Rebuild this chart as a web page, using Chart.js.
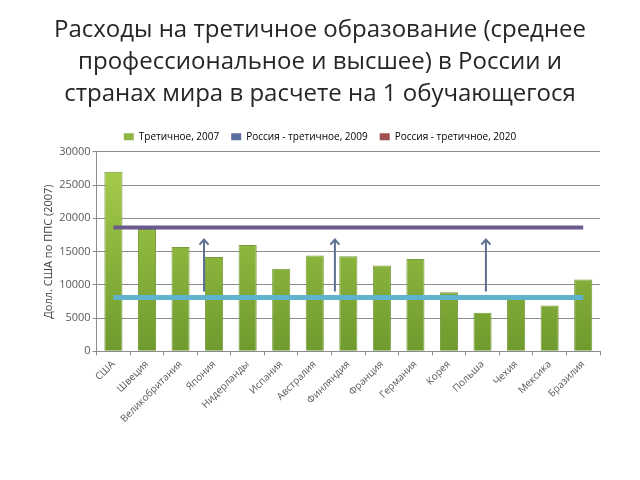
<!DOCTYPE html>
<html>
<head>
<meta charset="utf-8">
<script src="https://cdn.jsdelivr.net/npm/chart.js@4"></script>
<style>
  body { margin: 0; background: #fff; }
  #wrap { width: 640px; height: 480px; }
</style>
</head>
<body>
<div id="wrap"><canvas id="my-chart"></canvas></div>
<script>
const countries = ["США", "Швеция", "Великобритания", "Япония", "Нидерланды", "Испания", "Австралия",
  "Финляндия", "Франция", "Германия", "Корея", "Польша", "Чехия", "Мексика", "Бразилия"];
const tertiary2007 = [27000, 18400, 15700, 14200, 16000, 12400, 14400, 14300, 12900, 13900, 8900, 5800, 8000, 6900, 10800];
const russia2009 = [8100, 8100, 8100, 8100, 8100, 8100, 8100, 8100, 8100, 8100, 8100, 8100, 8100, 8100, 8100];
const russia2020 = [18600, 18600, 18600, 18600, 18600, 18600, 18600, 18600, 18600, 18600, 18600, 18600, 18600, 18600, 18600];
const yTicks = [0, 5000, 10000, 15000, 20000, 25000, 30000];
// arrows: position on category axis, from / to values
const arrowAt = [2.7, 6.6, 11.1];
const arrowFrom = [9000, 9000, 9000];
const arrowTo = [16800, 16800, 16800];

const titleLines = [
  "Расходы на третичное образование (среднее",
  "профессиональное и высшее) в России и",
  "странах мира в расчете на 1 обучающегося",
];

// vertical arrows on top of everything
const arrowPlugin = {
  id: "arrows",
  afterDatasetsDraw(chart) {
    const { ctx, scales } = chart;
    ctx.save();
    ctx.strokeStyle = "#5d7090";
    ctx.lineWidth = 2;
    arrowAt.forEach((a, i) => {
      const x = scales.x.getPixelForValue(a);
      const y0 = scales.y.getPixelForValue(arrowFrom[i]);
      const y1 = scales.y.getPixelForValue(arrowTo[i]);
      ctx.beginPath();
      ctx.moveTo(x, y0);
      ctx.lineTo(x, y1);
      ctx.moveTo(x - 4.5, y1 + 5);
      ctx.lineTo(x, y1);
      ctx.lineTo(x + 4.5, y1 + 5);
      ctx.stroke();
    });
    ctx.restore();
  },
};

function barGradient(context) {
  const area = context.chart.chartArea;
  if (!area) return "#9bbb59";
  const g = context.chart.ctx.createLinearGradient(0, area.top, 0, area.bottom);
  g.addColorStop(0, "#a9cf4c");
  g.addColorStop(1, "#6f9a2e");
  return g;
}

const ctx = document.getElementById("my-chart").getContext("2d");
const chart = new Chart(ctx, {
  type: "bar",
  data: {
    labels: countries,
    datasets: [
      {
        label: "Третичное, 2007",
        data: tertiary2007,
        backgroundColor: barGradient,
        borderColor: "#789c3a",
        borderWidth: 1,
        barPercentage: 0.54,
        categoryPercentage: 1,
        order: 2,
      },
      {
        type: "line",
        label: "Россия - третичное, 2009",
        data: russia2009,
        borderColor: "#5fb3cc",
        borderWidth: 5,
        pointRadius: 0,
        order: 1,
      },
      {
        type: "line",
        label: "Россия - третичное, 2020",
        data: russia2020,
        borderColor: "#6b5a8e",
        borderWidth: 4,
        pointRadius: 0,
        order: 1,
      },
    ],
  },
  options: {
    responsive: true,
    maintainAspectRatio: false,
    animation: false,
    layout: { padding: { left: 40, right: 40, top: 6, bottom: 52 } },
    plugins: {
      title: {
        display: true,
        text: titleLines,
        color: "#262626",
        font: { family: "Open Sans", size: 24, weight: "normal", lineHeight: 1.33 },
        padding: { top: 8, bottom: 10 },
      },
      legend: {
        labels: {
          color: "#595959",
          font: { family: "Open Sans", size: 10 },
          boxWidth: 10,
          boxHeight: 7,
          padding: 12,
          generateLabels() {
            return [
              { text: "Третичное, 2007", fillStyle: "#8fb545", strokeStyle: "#8fb545", lineWidth: 0 },
              { text: "Россия - третичное, 2009", fillStyle: "#5a6f9c", strokeStyle: "#5a6f9c", lineWidth: 0 },
              { text: "Россия - третичное, 2020", fillStyle: "#a0504f", strokeStyle: "#a0504f", lineWidth: 0 },
            ];
          },
        },
      },
      tooltip: { enabled: false },
    },
    scales: {
      x: {
        offset: true,
        grid: { display: true, drawOnChartArea: false, offset: true, tickLength: 4, color: "#8c8c8c" },
        border: { color: "#8c8c8c" },
        ticks: {
          color: "#595959",
          font: { family: "Open Sans", size: 10 },
          maxRotation: 45,
          minRotation: 45,
          autoSkip: false,
        },
      },
      y: {
        min: 0,
        max: 30000,
        afterBuildTicks(axis) {
          axis.ticks = yTicks.map((v) => ({ value: v }));
        },
        grid: { color: "#8c8c8c", tickLength: 4 },
        border: { color: "#8c8c8c" },
        ticks: {
          color: "#595959",
          font: { family: "Open Sans", size: 11 },
          padding: 2,
          callback: (v) => String(v),
        },
        title: {
          display: true,
          text: "Долл. США по ППС (2007)",
          color: "#404040",
          font: { family: "Open Sans", size: 11 },
          padding: 2,
        },
      },
    },
  },
  plugins: [arrowPlugin],
}); // closes chart
</script>
</body>
</html>
